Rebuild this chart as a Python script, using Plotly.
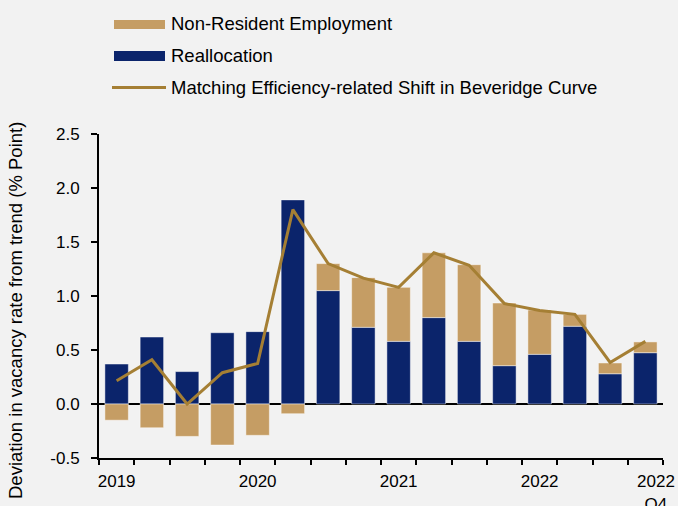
import plotly.graph_objects as go

# ---- data ----
quarters = ["2019Q1", "2019Q2", "2019Q3", "2019Q4",
            "2020Q1", "2020Q2", "2020Q3", "2020Q4",
            "2021Q1", "2021Q2", "2021Q3", "2021Q4",
            "2022Q1", "2022Q2", "2022Q3", "2022Q4"]
reallocation = [0.37, 0.62, 0.30, 0.66, 0.67, 1.89, 1.05, 0.71,
                0.58, 0.80, 0.58, 0.355, 0.46, 0.72, 0.28, 0.475]
non_resident = [-0.15, -0.22, -0.30, -0.38, -0.29, -0.09, 0.25, 0.46,
                0.50, 0.60, 0.71, 0.58, 0.41, 0.11, 0.10, 0.10]
matching = [0.215, 0.41, 0.0, 0.29, 0.375, 1.80, 1.30, 1.165,
            1.08, 1.40, 1.285, 0.93, 0.865, 0.83, 0.385, 0.58]
tick_labels = ["2019", "2020", "2021", "2022", "2022<br>Q4"]
tick_quarters = ["2019Q1", "2020Q1", "2021Q1", "2022Q1", "2022Q4"]
y_ticks = [-0.5, 0.0, 0.5, 1.0, 1.5, 2.0, 2.5]

series_names = ["Non-Resident Employment", "Reallocation",
                "Matching Efficiency-related Shift in Beveridge Curve"]

# ---- style ----
NAVY = "#0B246B"
TAN = "#C59D64"
LINE = "#A57F34"
BG = "#F2F2F2"
FONT = "Liberation Sans, Arial, sans-serif"

W, H = 678, 506
L, R, T, B = 99, 15, 134, 48
PW, PH = W - L - R, H - T - B


def px_x(px):
    return (px - L) / PW


def px_y(py):
    return (H - B - py) / PH


x = list(range(len(quarters)))
tickvals = [quarters.index(q) for q in tick_quarters]
tickvals[-1] = tickvals[-1] + 0.3  # last label sits slightly right, as in source

fig = go.Figure()
edge = dict(color="rgba(255,255,255,0.45)", width=1)
fig.add_trace(go.Bar(x=x, y=reallocation, name=series_names[1],
                     marker=dict(color=NAVY, line=edge), width=0.665,
                     showlegend=False))
fig.add_trace(go.Bar(x=x, y=non_resident, name=series_names[0],
                     marker=dict(color=TAN, line=edge), width=0.665,
                     showlegend=False))
fig.add_trace(go.Scatter(x=x, y=matching, name=series_names[2], mode="lines",
                         line=dict(color=LINE, width=3), showlegend=False))

fig.update_layout(
    width=W, height=H, barmode="relative",
    margin=dict(l=L, r=R, t=T, b=B, pad=0, autoexpand=False),
    paper_bgcolor=BG, plot_bgcolor=BG,
    font=dict(family=FONT, size=17, color="#000000"),
    xaxis=dict(range=[-0.5, len(quarters) - 0.5], tickmode="array",
               tickvals=tickvals, ticktext=tick_labels, automargin=False,
               ticks="outside", ticklen=0, tickcolor=BG,
               showgrid=False, zeroline=False,
               showline=True, linecolor="#000000", linewidth=2,
               ticklabelstandoff=7,
               minor=dict(tickmode="array",
                          tickvals=[i - 0.5 for i in range(len(quarters) + 1)],
                          ticks="outside", ticklen=5, tickwidth=2,
                          tickcolor="#000000", showgrid=False),
               tickfont=dict(size=17)),
    yaxis=dict(range=[-0.5, 2.5], tickmode="array", tickvals=y_ticks,
               ticktext=[f"{v:.1f}" for v in y_ticks], automargin=False,
               ticks="outside", ticklen=6, tickwidth=2, tickcolor="#000000",
               showgrid=False, zeroline=True, zerolinecolor="#000000",
               zerolinewidth=2, showline=True, linecolor="#000000",
               linewidth=2, ticklabelstandoff=8, tickfont=dict(size=17)),
)

# y-axis title
fig.add_annotation(text="Deviation in vacancy rate from trend (% Point)",
                   xref="paper", yref="paper", x=px_x(15), y=px_y(311),
                   textangle=-90, showarrow=False, xanchor="center",
                   yanchor="middle", font=dict(size=18.5))

# manual legend
fig.add_shape(type="rect", xref="paper", yref="paper",
              x0=px_x(114), x1=px_x(165), y0=px_y(29), y1=px_y(20),
              fillcolor=TAN, line=dict(width=0))
fig.add_shape(type="rect", xref="paper", yref="paper",
              x0=px_x(114), x1=px_x(165), y0=px_y(61), y1=px_y(51),
              fillcolor=NAVY, line=dict(width=0))
fig.add_shape(type="line", xref="paper", yref="paper",
              x0=px_x(112), x1=px_x(166), y0=px_y(87.5), y1=px_y(87.5),
              line=dict(color=LINE, width=3))
for name, cy in zip(series_names, [23, 55, 87]):
    fig.add_annotation(text=name, xref="paper", yref="paper",
                       x=px_x(169), y=px_y(cy), showarrow=False,
                       xanchor="left", yanchor="middle",
                       font=dict(size=18.5))

fig.write_html("out.html")
